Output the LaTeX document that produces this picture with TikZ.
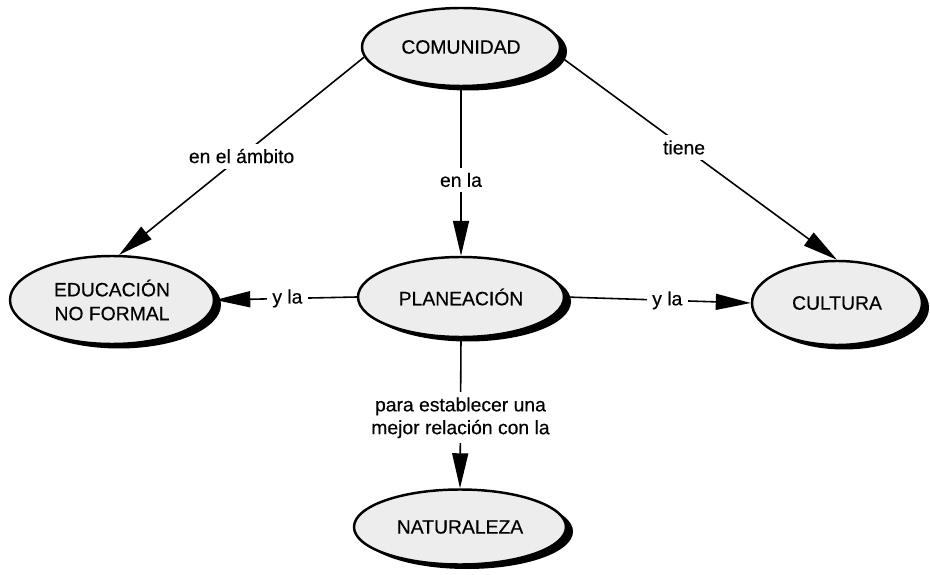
\documentclass[tikz,border=0pt]{standalone}
\usepackage{fontspec}
\setmainfont[FakeBold=0.4]{Liberation Sans}
\usepackage{tikz}
\usetikzlibrary{shapes.geometric,shadows,arrows.meta}
\newcommand{\conceptfill}{gray!14}
\newcommand{\linethick}{0.9pt}
\newcommand{\tip}{Triangle[length=0.7cm, width=0.32cm]}

\begin{document}
\begin{tikzpicture}[
  concept/.style={ellipse, draw, line width=1.4pt, fill=\conceptfill, inner sep=0pt,
    align=center, font=\fontsize{11}{13.6}\selectfont,
    drop shadow={shadow xshift=0.14cm, shadow yshift=-0.09cm, opacity=1, fill=black}},
  link/.style={line width=\linethick, -{\tip}},
  linklabel/.style={fill=white, inner sep=3pt, align=center, font=\fontsize{11}{13}\selectfont}
]
\useasboundingbox (0,0) rectangle (18.6,-11.5);
%conceptos
\node[concept, minimum width=3.96cm, minimum height=1.56cm] (comunidad) at (9.22, -0.94) {COMUNIDAD};
\node[concept, minimum width=4.08cm, minimum height=1.76cm] (educacion) at (2.24, -6.0) {EDUCACIÓN\\NO FORMAL};
\node[concept, minimum width=4.12cm, minimum height=1.6cm] (planeacion) at (9.22, -5.94) {PLANEACIÓN};
\node[concept, minimum width=3.4cm, minimum height=1.68cm] (cultura) at (16.74, -6.06) {CULTURA};
\node[concept, minimum width=4.24cm, minimum height=1.5cm] (naturaleza) at (9.2, -10.54) {NATURALEZA};
%enlaces
\draw[link] (comunidad.186) -- node[linklabel, pos=0.5] {en el ámbito} (educacion.81);
\draw[link] (comunidad.south) -- node[linklabel, pos=0.55] {en la} (planeacion.north);
\draw[link] (comunidad.-5) -- node[linklabel, pos=0.45] {tiene} (cultura.north);
\draw[link] (planeacion.west) -- node[linklabel, pos=0.49] {y la} (educacion.east);
\draw[link] (planeacion.east) -- node[linklabel, pos=0.55] {y la} (cultura.west);
\draw[link] (planeacion.south) -- node[linklabel, pos=0.53] {para establecer una\\mejor relación con la} (naturaleza.north);
\end{tikzpicture}
\end{document}
